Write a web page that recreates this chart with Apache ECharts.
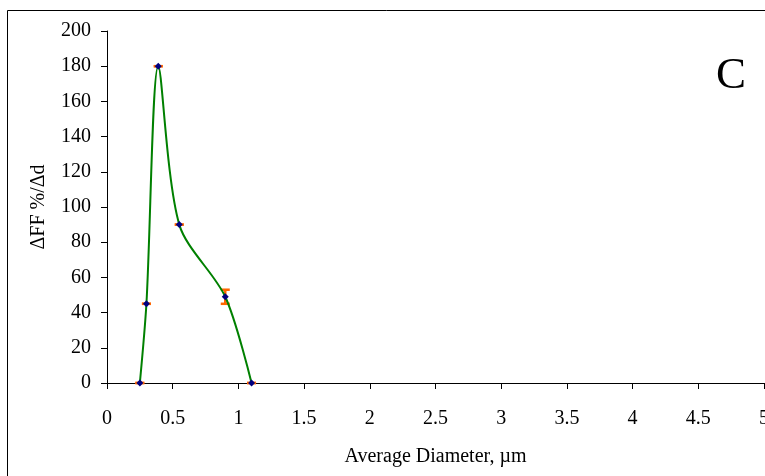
<!DOCTYPE html>
<html>
<head>
<meta charset="utf-8">
<script src="https://cdn.jsdelivr.net/npm/echarts@6/dist/echarts.min.js"></script>
<style>html,body{margin:0;padding:0;background:#fff;}#c{width:765px;height:476px;}</style>
</head>
<body>
<div id="c"></div>
<script>
const diameters = [0.25, 0.3, 0.39, 0.55, 0.9, 1.1];
const dffValues = [0, 45, 180, 90, 49, 0];
const errValues = [0, 0, 0, 0, 4, 0];
const xTicks = [0, 0.5, 1, 1.5, 2, 2.5, 3, 3.5, 4, 4.5, 5];
const yTicks = [0, 20, 40, 60, 80, 100, 120, 140, 160, 180, 200];

const font = '"Liberation Serif", "Times New Roman", serif';
const chart = echarts.init(document.getElementById('c'), null, {renderer: 'canvas'});

const lineData = diameters.map((d, i) => [d, dffValues[i]]);
const errData = diameters.map((d, i) => [d, dffValues[i] - errValues[i], dffValues[i] + errValues[i]]);

chart.setOption({
  animation: false,
  backgroundColor: '#fff',
  grid: {left: 107, top: 31, right: 1, bottom: 93, containLabel: false, outerBoundsMode: 'none'},
  xAxis: {
    type: 'value', min: xTicks[0], max: xTicks[xTicks.length - 1], interval: 0.5,
    name: 'Average Diameter, µm', nameLocation: 'middle', nameGap: 64,
    nameTextStyle: {fontFamily: font, fontSize: 20, color: '#000'},
    axisLine: {lineStyle: {color: '#000', width: 1}},
    axisTick: {show: true, inside: false, length: 6, lineStyle: {color: '#000'}},
    axisLabel: {fontFamily: font, fontSize: 20, color: '#000', margin: 26, showMaxLabel: true, hideOverlap: false},
    splitLine: {show: false}
  },
  yAxis: {
    type: 'value', min: yTicks[0], max: yTicks[yTicks.length - 1], interval: 20,
    name: 'ΔFF %/Δd', nameLocation: 'middle', nameGap: 58, nameRotate: 90,
    nameTextStyle: {fontFamily: font, fontSize: 20, color: '#000'},
    axisLine: {show: true, lineStyle: {color: '#000', width: 1}},
    axisTick: {show: true, inside: false, length: 6, lineStyle: {color: '#000'}},
    axisLabel: {fontFamily: font, fontSize: 20, color: '#000', margin: 16},
    splitLine: {show: false}
  },
  graphic: [
    {type: 'rect', shape: {x: 7.5, y: 10.5, width: 900, height: 600}, style: {fill: 'none', stroke: '#000', lineWidth: 1}, z: -1},
    {type: 'text', left: 716, top: 54, style: {text: 'C', font: '45px "Liberation Serif", serif', fill: '#000'}}
  ],
  series: [
    {
      type: 'custom', z: 1,
      data: errData,
      renderItem: function (params, api) {
        const x = api.value(0);
        const lo = api.coord([x, api.value(1)]);
        const hi = api.coord([x, api.value(2)]);
        const hw = 4.5;
        const st = {stroke: '#FF6600', lineWidth: 2.5};
        return {
          type: 'group',
          children: [
            {type: 'line', shape: {x1: lo[0], y1: lo[1], x2: hi[0], y2: hi[1]}, style: st},
            {type: 'line', shape: {x1: lo[0] - hw, y1: lo[1], x2: lo[0] + hw, y2: lo[1]}, style: st},
            {type: 'line', shape: {x1: hi[0] - hw, y1: hi[1], x2: hi[0] + hw, y2: hi[1]}, style: st}
          ]
        };
      }
    },
    {
      type: 'line', z: 2,
      data: lineData,
      smooth: 0.3,
      lineStyle: {color: '#008000', width: 2},
      symbol: 'diamond', symbolSize: 7,
      itemStyle: {color: '#000080'},
      showSymbol: true
    }
  ]
});
</script>
</body>
</html>
